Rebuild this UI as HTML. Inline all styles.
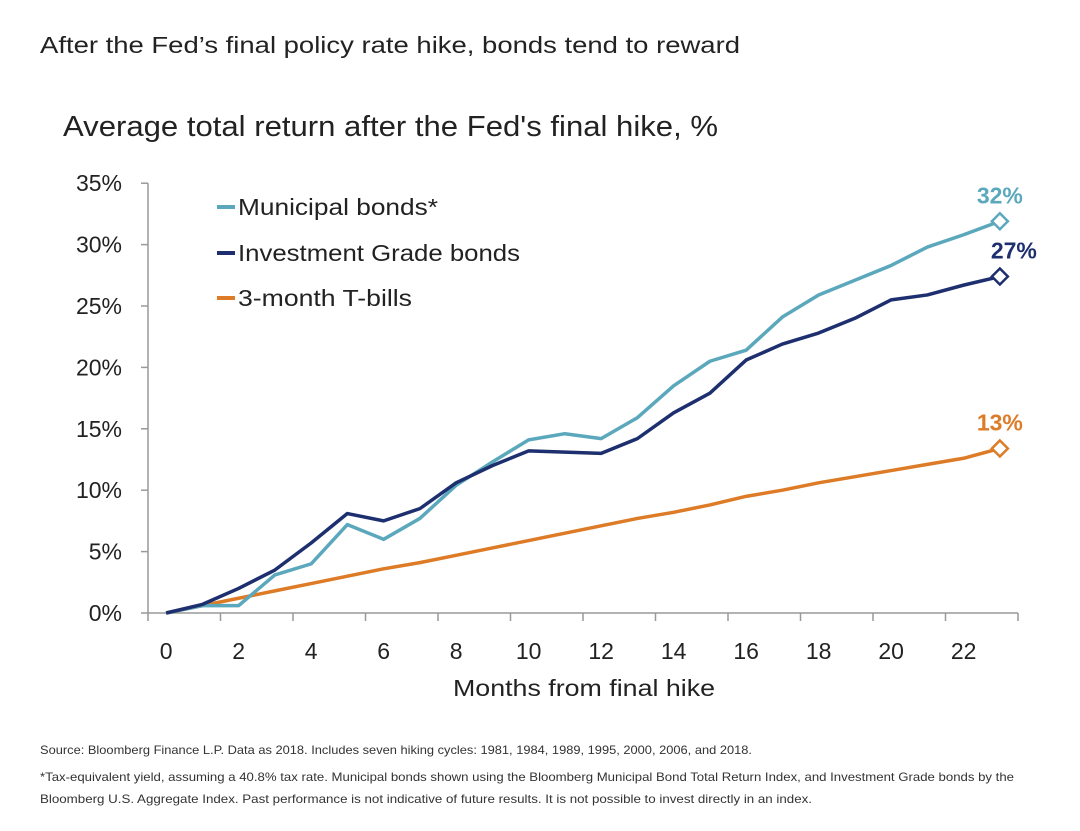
<!DOCTYPE html>
<html><head><meta charset="utf-8"><style>
body{margin:0;background:#fff;font-family:"Liberation Sans",sans-serif}
svg{display:block}
</style></head><body>
<svg id="c" width="1080" height="831" xmlns="http://www.w3.org/2000/svg" font-family="Liberation Sans, sans-serif">
<text x="40" y="53" font-size="23" fill="#222" textLength="700" lengthAdjust="spacingAndGlyphs">After the Fed’s final policy rate hike, bonds tend to reward</text>
<text x="63" y="136" font-size="29" fill="#222" textLength="655" lengthAdjust="spacingAndGlyphs">Average total return after the Fed's final hike, %</text>
<g id="axes"></g>
<g id="lines"></g>
<g>
<line x1="217" y1="207" x2="235" y2="207" stroke="#5ba8bd" stroke-width="4"/>
<text x="238" y="215" font-size="23" fill="#222" textLength="200" lengthAdjust="spacingAndGlyphs">Municipal bonds*</text>
<line x1="217" y1="253" x2="235" y2="253" stroke="#1d2f6e" stroke-width="4"/>
<text x="238" y="261" font-size="23" fill="#222" textLength="282" lengthAdjust="spacingAndGlyphs">Investment Grade bonds</text>
<line x1="217" y1="298" x2="235" y2="298" stroke="#dd7b26" stroke-width="4"/>
<text x="238" y="306" font-size="23" fill="#222" textLength="174" lengthAdjust="spacingAndGlyphs">3-month T-bills</text>
</g>
<text x="584" y="696" font-size="23" fill="#222" text-anchor="middle" textLength="262" lengthAdjust="spacingAndGlyphs">Months from final hike</text>
<g font-size="12" fill="#333">
<text x="40" y="754" textLength="712" lengthAdjust="spacingAndGlyphs">Source: Bloomberg Finance L.P. Data as 2018. Includes seven hiking cycles: 1981, 1984, 1989, 1995, 2000, 2006, and 2018.</text>
<text x="40" y="781" textLength="974" lengthAdjust="spacingAndGlyphs">*Tax-equivalent yield, assuming a 40.8% tax rate. Municipal bonds shown using the Bloomberg Municipal Bond Total Return Index, and Investment Grade bonds by the</text>
<text x="40" y="803" textLength="772" lengthAdjust="spacingAndGlyphs">Bloomberg U.S. Aggregate Index. Past performance is not indicative of future results. It is not possible to invest directly in an index.</text>
</g>
</svg>
<script>
const months=[0,1,2,3,4,5,6,7,8,9,10,11,12,13,14,15,16,17,18,19,20,21,22,23];
const muni=[0,0.6,0.6,3.1,4.0,7.2,6.0,7.7,10.4,12.3,14.1,14.6,14.2,15.9,18.5,20.5,21.4,24.1,25.9,27.1,28.3,29.8,30.8,31.9];
const ig=[0,0.7,2.0,3.5,5.7,8.1,7.5,8.5,10.6,12.0,13.2,13.1,13.0,14.2,16.3,17.9,20.6,21.9,22.8,24.0,25.5,25.9,26.7,27.4];
const tbills=[0,0.6,1.2,1.8,2.4,3.0,3.6,4.1,4.7,5.3,5.9,6.5,7.1,7.7,8.2,8.8,9.5,10.0,10.6,11.1,11.6,12.1,12.6,13.4];
const yTicks=[0,5,10,15,20,25,30,35];
const xTickLabels=[0,2,4,6,8,10,12,14,16,18,20,22];
const endLabels=["32%","27%","13%"];

const NS="http://www.w3.org/2000/svg";
const X0=148,BW=36.25,Y0=613,PY=12.28;
const xs=m=>X0+BW*(m+0.5);
const ys=v=>Y0-v*PY;
function mk(t,a,p){const e=document.createElementNS(NS,t);for(const k in a)e.setAttribute(k,a[k]);p.appendChild(e);return e;}
const ax=document.getElementById('axes'),ln=document.getElementById('lines');
const xEnd=X0+BW*months.length;
let e=mk('line',{x1:X0,y1:ys(0),x2:X0,y2:ys(35),stroke:'#999','stroke-width':1.5},ax);


e=mk('line',{x1:X0,y1:Y0,x2:xEnd,y2:Y0,stroke:'#999','stroke-width':1.5},ax);


yTicks.forEach(v=>{
 let t=mk('line',{x1:X0-7,y1:ys(v),x2:X0,y2:ys(v),stroke:'#999','stroke-width':1.5},ax);
 
 
 let l=mk('text',{x:X0-26,y:ys(v)+8,'font-size':23,fill:'#222','text-anchor':'end'},ax);
 l.textContent=v+'%';
 
 
});
for(let i=0;i<=months.length;i+=2){
 let t=mk('line',{x1:X0+BW*i,y1:Y0,x2:X0+BW*i,y2:Y0+8,stroke:'#999','stroke-width':1.5},ax);
 
 
}
xTickLabels.forEach(m=>{
 let l=mk('text',{x:xs(m),y:659,'font-size':23,fill:'#222','text-anchor':'middle'},ax);
 l.textContent=m;
 
 
});
const series=[[tbills,'#dd7b26','tbills'],[muni,'#5ba8bd','muni'],[ig,'#1d2f6e','ig']];
const lblIdx={muni:0,ig:1,tbills:2};
series.forEach(([d,c,n])=>{
 const pts=d.map((v,i)=>xs(months[i])+','+ys(v)).join(' ');
 let p=mk('polyline',{points:pts,fill:'none',stroke:c,'stroke-width':3.5,'stroke-linejoin':'round'},ln);
 
 
 const last=d.length-1,cx=xs(months[last]),cy=ys(d[last]);
 let dm=mk('polygon',{points:`${cx},${cy-8} ${cx+8},${cy} ${cx},${cy+8} ${cx-8},${cy}`,fill:'#fff',stroke:c,'stroke-width':2.5},ln);
 
 
 let t=mk('text',{x:n==='ig'?cx+14:cx,y:cy-18,'font-size':23,fill:c,'text-anchor':'middle','font-weight':'bold'},ln);
 t.textContent=endLabels[lblIdx[n]];
 
 
});
</script>
</body></html>
